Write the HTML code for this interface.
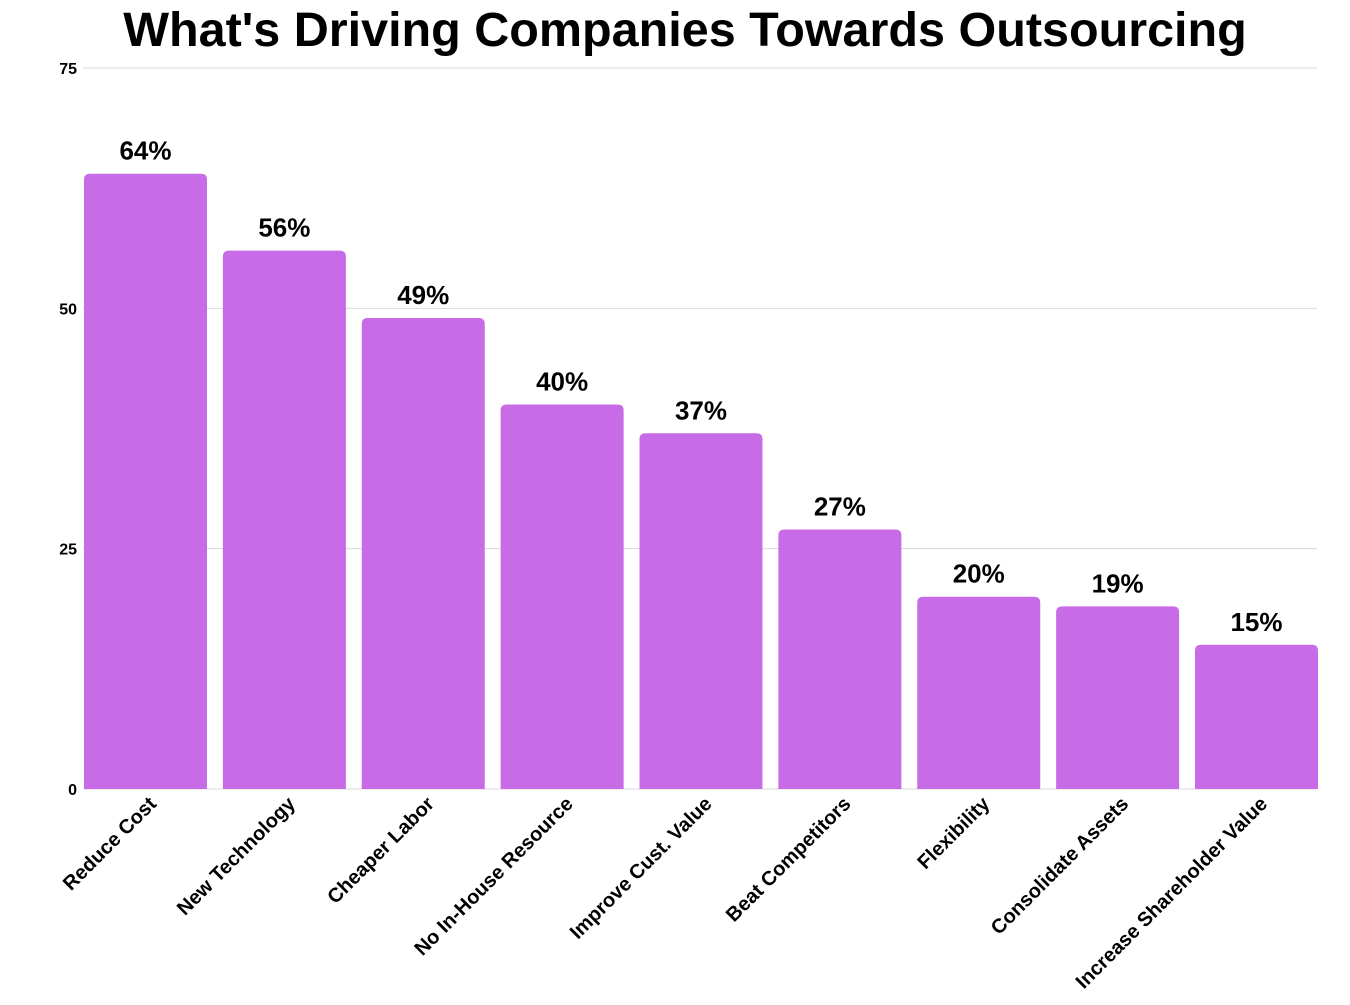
<!DOCTYPE html>
<html><head><meta charset="utf-8"><style>
body{margin:0;background:#fff;width:1350px;height:1000px;overflow:hidden;font-family:"Liberation Sans",sans-serif;}
</style></head><body>
<svg id="chart" width="1350" height="1000" xmlns="http://www.w3.org/2000/svg">
<text x="685" y="46" text-anchor="middle" font-family="Liberation Sans, sans-serif" font-weight="bold" font-size="48.5" fill="#000">What's Driving Companies Towards Outsourcing</text>
<g id="grid"></g><g id="bars"></g><g id="labels"></g>
</svg>
<script>
const categories=["Reduce Cost","New Technology","Cheaper Labor","No In-House Resource","Improve Cust. Value","Beat Competitors","Flexibility","Consolidate Assets","Increase Shareholder Value"];
const values=[64,56,49,40,37,27,20,19,15];
const valueLabels=["64%","56%","49%","40%","37%","27%","20%","19%","15%"];
const yTicks=[0,25,50,75];
const NS="http://www.w3.org/2000/svg";
const X0=83,X1=1317,Y0=789,Y1=68,YMAX=75,BW=123;
const step=(X1-X0-BW)/(categories.length-1);
function y(v){return Y0-(v/YMAX)*(Y0-Y1);}
function xb(i){return X0+1+i*step;}
function mk(t,a,p){const e=document.createElementNS(NS,t);for(const k in a)e.setAttribute(k,a[k]);p.appendChild(e);return e;}
const grid=document.getElementById('grid'),bars=document.getElementById('bars'),labels=document.getElementById('labels');
yTicks.forEach(t=>{
  const l=mk('line',{x1:X0,x2:X1,y1:y(t),y2:y(t),stroke:'#d9d9d9','stroke-width':1},grid);
  
  
  const tx=mk('text',{x:77,y:y(t)+6,'text-anchor':'end','font-size':16,'font-weight':'bold'},grid);
  tx.textContent=t;
  
  
});
values.forEach((v,i)=>{
  const x=xb(i),top=y(v),r=6;
  const d=`M${x},${Y0} V${top+r} Q${x},${top} ${x+r},${top} H${x+BW-r} Q${x+BW},${top} ${x+BW},${top+r} V${Y0} Z`;
  const b=mk('path',{d:d,fill:'#c86be6'},bars);
  
  
  const vl=mk('text',{x:x+BW/2,y:top-14,'text-anchor':'middle','font-size':26,'font-weight':'bold'},labels);
  vl.textContent=valueLabels[i];
  
  
  const cx=x+BW/2+12,cy=Y0+16;
  const cl=mk('text',{x:cx,y:cy,'text-anchor':'end','font-size':20,'font-weight':'bold',transform:`rotate(-45 ${cx} ${cy})`},labels);
  cl.textContent=categories[i];
  
  
});
</script>
</body></html>
